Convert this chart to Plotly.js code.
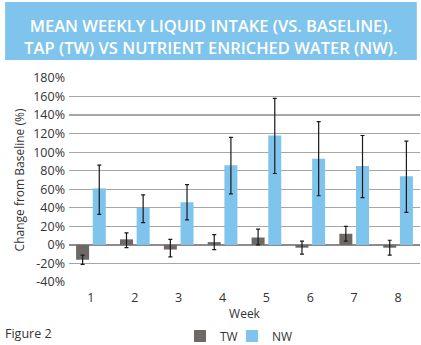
<!DOCTYPE html>
<html>
<head>
<meta charset="utf-8">
<script src="https://cdn.plot.ly/plotly-3.0.1.min.js"></script>
<style>html,body{margin:0;padding:0;background:#fff}#chart{width:421px;height:345px}</style>
</head>
<body>
<div id="chart"></div>
<script>
const weeks = ['1','2','3','4','5','6','7','8'];
const twValues = [-16, 6, -5, 3, 8, -3, 12, -3];
const twErrPlus = [5, 7, 11, 8, 9, 7, 8, 8];
const twErrMinus = [5, 9, 8, 8, 8, 7, 8, 8];
const nwValues = [61, 40, 46, 86, 118, 93, 85, 74];
const nwErrPlus = [25, 14, 19, 30, 40, 40, 33, 38];
const nwErrMinus = [28, 16, 19, 31, 41, 40, 34, 39];
const yTicks = [-40, -20, 0, 20, 40, 60, 80, 100, 120, 140, 160, 180];
const yTickText = yTicks.map(v => v + '%');

const tw = {
  type: 'bar', name: 'TW', x: weeks, y: twValues, legend: 'legend',
  marker: {color: '#6e6866'},
  error_y: {type: 'data', array: twErrPlus, arrayminus: twErrMinus, symmetric: false,
            color: '#1a1a1a', thickness: 1.2, width: 2}
};
const nw = {
  type: 'bar', name: 'NW', x: weeks, y: nwValues, legend: 'legend2',
  marker: {color: '#7fc4ec'},
  error_y: {type: 'data', array: nwErrPlus, arrayminus: nwErrMinus, symmetric: false,
            color: '#1a1a1a', thickness: 1.2, width: 2}
};

const legendCommon = {
  orientation: 'h', xref: 'container', yref: 'container', xanchor: 'left',
  y: 0.026, yanchor: 'middle', font: {size: 12, color: '#333'}, itemwidth: 30,
  bgcolor: 'rgba(0,0,0,0)'
};

const layout = {
  width: 421, height: 345,
  margin: {l: 69, r: 1, t: 78, b: 63},
  paper_bgcolor: '#ffffff', plot_bgcolor: '#ffffff',
  font: {family: 'Open Sans, sans-serif', color: '#333333', size: 12},
  barmode: 'group', bargap: 0.24, bargroupgap: 0.22,
  title: {
    text: 'MEAN WEEKLY LIQUID INTAKE (VS. BASELINE).<br>TAP (TW) VS NUTRIENT ENRICHED WATER (NW).',
    font: {family: 'Open Sans, sans-serif', size: 16.5, color: '#ffffff', weight: 600},
    x: 0.501, xref: 'container', xanchor: 'center',
    y: 0.907, yref: 'container', yanchor: 'middle'
  },
  shapes: [{
    type: 'rect', xref: 'paper', yref: 'paper',
    x0: -0.182, x1: 0.991, y0: 1.088, y1: 1.3725,
    fillcolor: '#7fc4ec', line: {width: 0}, layer: 'below'
  }],
  xaxis: {
    type: 'category', showgrid: false, zeroline: false, showline: false, automargin: false,
    ticks: '', ticklabelstandoff: 6, tickfont: {size: 12.5, color: '#333'},
    title: {text: 'Week', font: {size: 12, color: '#333'}, standoff: 6}
  },
  yaxis: {
    range: [-40, 180], tickmode: 'array', tickvals: yTicks, ticktext: yTickText,
    showgrid: true, gridcolor: '#a6a6a6', gridwidth: 1.3, automargin: false,
    zeroline: true, zerolinecolor: '#8c8c8c', zerolinewidth: 1.3,
    showline: false, ticks: '', ticklabelstandoff: 3,
    tickfont: {size: 12.5, color: '#333'},
    title: {text: 'Change from Baseline (%)', font: {size: 12, color: '#333'}, standoff: 6}
  },
  showlegend: true,
  legend: Object.assign({}, legendCommon, {x: 180 / 421}),
  legend2: Object.assign({}, legendCommon, {x: 232 / 421}),
  annotations: [{
    text: 'Figure 2', xref: 'paper', yref: 'paper', x: -0.188, y: -0.25,
    xanchor: 'left', yanchor: 'middle', showarrow: false,
    font: {size: 12.5, color: '#333'}
  }]
};

Plotly.newPlot('chart', [tw, nw], layout, {displayModeBar: false, staticPlot: true});
</script>
</body>
</html>
